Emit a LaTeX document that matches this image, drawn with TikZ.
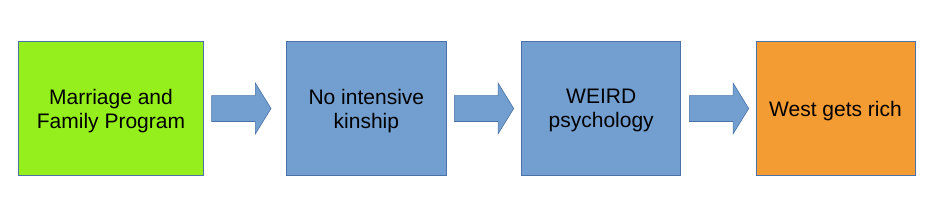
\documentclass[tikz,border=0pt]{standalone}
\usepackage{fontspec}
\setmainfont{Liberation Sans}
\usetikzlibrary{shapes.arrows}
\definecolor{stepgreen}{HTML}{95EF1D}
\definecolor{stepblue}{HTML}{729FCF}
\definecolor{steporange}{HTML}{F39C34}
\definecolor{stepedge}{HTML}{4A72A8}
\tikzset{
  stepbox/.style={draw=stepedge, line width=0.8pt, rectangle, minimum height=134pt,
    align=center, inner sep=0pt, text depth=0pt, font=\fontsize{21}{24}\selectfont},
  flowarrow/.style={single arrow, fill=stepblue, draw=stepedge, line width=0.6pt,
    inner xsep=0pt, inner ysep=12.65pt, minimum height=59.4pt, minimum width=50pt,
    single arrow head extend=12.35pt, single arrow tip angle=116.8,
    single arrow head indent=0pt, anchor=tail},
}
\begin{document}
\begin{tikzpicture}[x=1pt, y=-1pt]
\fill[white] (0,0) rectangle (935,214);
\useasboundingbox (0,0) rectangle (935,214);
\node[stepbox, fill=stepgreen, minimum width=184.6pt] (family) at (111,108.7) {Marriage and\\Family Program};
\node[stepbox, fill=stepblue, minimum width=159.3pt] (kinship) at (366.35,108.7) {No intensive\\kinship};
\node[stepbox, fill=stepblue, minimum width=159pt] (weird) at (601.2,108.7) {WEIRD\\psychology};
\node[stepbox, fill=steporange, minimum width=159pt] (rich) at (835.5,108.7) {West gets rich};
\node[flowarrow] (arrowA) at (211.3,108.5) {};
\node[flowarrow] (arrowB) at (454,108.5) {};
\node[flowarrow] (arrowC) at (689,108.5) {};
\end{tikzpicture}
\end{document}
